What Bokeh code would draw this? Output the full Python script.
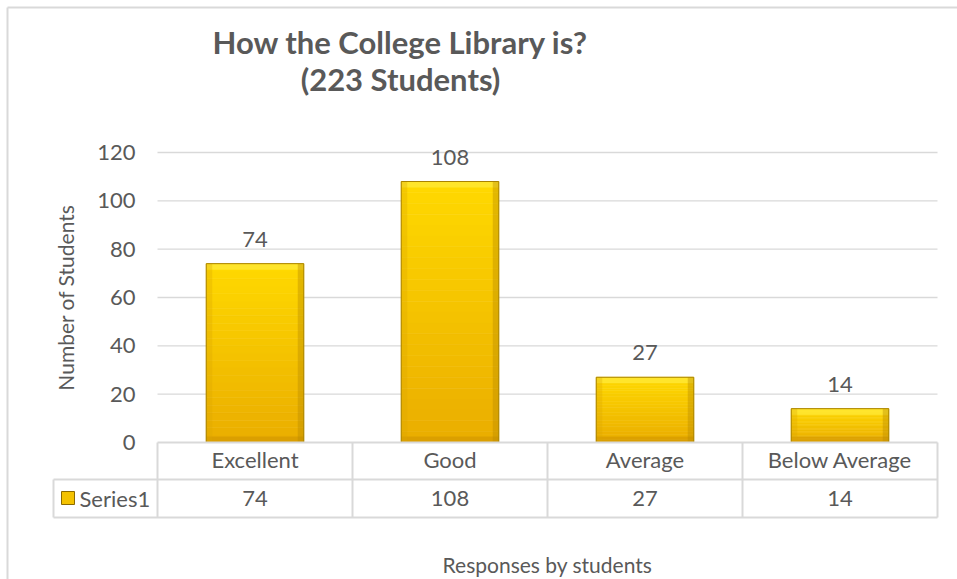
import math
from bokeh.plotting import figure
from bokeh.models import Range1d, LabelSet, ColumnDataSource
from bokeh.core.properties import value
from bokeh.embed import file_html
from bokeh.resources import INLINE

# ---------------- data ----------------
categories = ["Excellent", "Good", "Average", "Below Average"]
values = [74, 108, 27, 14]
series_name = "Series1"
y_ticks = [0, 20, 40, 60, 80, 100, 120]
title_lines = ["How the College Library is?", "(223 Students)"]
x_title = "Responses by students"
y_title = "Number of Students"

# ---------------- layout (page pixels) ----------------
W, H = 957, 579
F_L, F_R, F_T, F_B = 157, 937, 152, 442      # plot area (gridlines)
ROW1_B, ROW2_B = 479, 517                     # data table rows
LEG_L = 53                                    # legend cell left
BORDER = 7                                    # chart-area border
TXT = "#595959"
GRID = "#D9D9D9"
FONT = value("Lato")

n = len(categories)
idx = list(range(n))
band = (F_R - F_L) / n
ppu = (F_B - F_T) / y_ticks[-1]


def dx(px):      # page px -> data x (category index units)
    return -0.5 + (px - F_L) / band


def dy(py):      # page px -> data y (students)
    return (F_B - py) / ppu


p = figure(width=W, height=H,
           x_range=Range1d(dx(0), dx(W)), y_range=Range1d(dy(H), dy(0)),
           x_axis_location=None, y_axis_location=None,
           min_border=0, min_border_left=0, min_border_right=0,
           min_border_top=0, min_border_bottom=0,
           output_backend="svg", toolbar_location=None,
           background_fill_color="white", border_fill_color="white")
p.outline_line_color = None
p.grid.visible = False

# chart-area border (left & top edges visible in the crop)
p.segment(x0=[dx(BORDER), dx(BORDER)], y0=[dy(BORDER), dy(BORDER)],
          x1=[dx(BORDER), dx(W + 5)], y1=[dy(H + 5), dy(BORDER)],
          line_color=GRID, line_width=2)

# gridlines and y tick labels
p.segment(x0=-0.5, x1=n - 0.5, y0=y_ticks[1:], y1=y_ticks[1:], line_color=GRID, line_width=1.3)
p.text(x=dx(F_L - 22), y=y_ticks, text=[str(t) for t in y_ticks], text_align="right",
       text_baseline="middle", text_font=FONT, text_font_size="22px", text_color=TXT)

# y axis title
p.text(x=dx(65), y=dy((F_T + F_B) / 2), text=[y_title], angle=math.pi / 2,
       text_align="center", text_baseline="middle", text_font=FONT,
       text_font_size="21px", text_color=TXT)

# ---------------- bars (vertical gradient + bevel) ----------------
N = 24
c_bot = (0xEA, 0xAD, 0x00)
c_top = (0xFF, 0xD9, 0x00)
gx, gb, gt, gc = [], [], [], []
for i, v in zip(idx, values):
    for k in range(N):
        t = (k + 0.5) / N
        col = "#%02x%02x%02x" % tuple(int(round(a + (b - a) * t)) for a, b in zip(c_bot, c_top))
        gx.append(i)
        gb.append(v * k / N)
        gt.append(v * (k + 1) / N)
        gc.append(col)
p.vbar(x=gx, bottom=gb, top=gt, width=0.5, fill_color=gc, line_color=gc, line_width=0.6)

bev_y = 6 / ppu
bev_x = 6 / band
p.vbar(x=idx, bottom=[max(v - bev_y, 0) for v in values], top=values, width=0.5,
       fill_color="#FFEA3A", fill_alpha=0.75, line_color=None)
p.vbar(x=idx, bottom=0, top=[min(bev_y, v) for v in values], width=0.5,
       fill_color="#C98F00", fill_alpha=0.45, line_color=None)
p.vbar(x=[i - 0.25 + bev_x / 2 for i in idx], bottom=0, top=values, width=bev_x,
       fill_color="#D9A400", fill_alpha=0.30, line_color=None)
p.vbar(x=[i + 0.25 - bev_x / 2 for i in idx], bottom=0, top=values, width=bev_x,
       fill_color="#B88A00", fill_alpha=0.40, line_color=None)
p.vbar(x=idx, top=values, width=0.5, fill_color=None, line_color="#A98300", line_width=1)

# value labels above bars
src = ColumnDataSource(dict(x=idx, y=values, t=[str(v) for v in values]))
p.add_layout(LabelSet(x="x", y="y", text="t", source=src, y_offset=17,
                      text_align="center", text_baseline="alphabetic",
                      text_font=FONT, text_font_size=value("22px"), text_color=TXT))

# ---------------- data table ----------------
r1, r2 = dy(ROW1_B), dy(ROW2_B)
# horizontal rules
p.segment(x0=[-0.5, dx(LEG_L), dx(LEG_L)], x1=[n - 0.5] * 3, y0=[0, r1, r2], y1=[0, r1, r2],
          line_color=GRID, line_width=2)
# vertical rules
bounds = [i - 0.5 for i in range(n + 1)]
p.segment(x0=bounds, x1=bounds, y0=0, y1=r2, line_color=GRID, line_width=2)
p.segment(x0=[dx(LEG_L)], x1=[dx(LEG_L)], y0=[r1], y1=[r2], line_color=GRID, line_width=2)

p.text(x=idx, y=dy(459), text=categories, text_align="center", text_baseline="middle",
       text_font=FONT, text_font_size="22px", text_color=TXT)
p.text(x=idx, y=dy(497.5), text=[str(v) for v in values], text_align="center",
       text_baseline="middle", text_font=FONT, text_font_size="22px", text_color=TXT)

# legend key and series name
p.quad(left=[dx(61)], right=[dx(74)], top=[dy(491)], bottom=[dy(504)],
       fill_color="#F4C200", line_color="#8C6A00", line_width=1)
p.text(x=[dx(79)], y=[dy(497.5)], text=[series_name], text_align="left",
       text_baseline="middle", text_font=FONT, text_font_size="22px", text_color=TXT)

# x axis title
p.text(x=[(n - 1) / 2], y=[dy(563.5)], text=[x_title], text_align="center",
       text_baseline="middle", text_font=FONT, text_font_size="21px", text_color=TXT)

# chart title
p.text(x=[dx(400)] * 2, y=[dy(41), dy(78)], text=title_lines, text_align="center",
       text_baseline="middle", text_font=FONT, text_font_size="31px",
       text_font_style="bold", text_color=TXT)

open("out.html", "w").write(file_html(p, INLINE))
